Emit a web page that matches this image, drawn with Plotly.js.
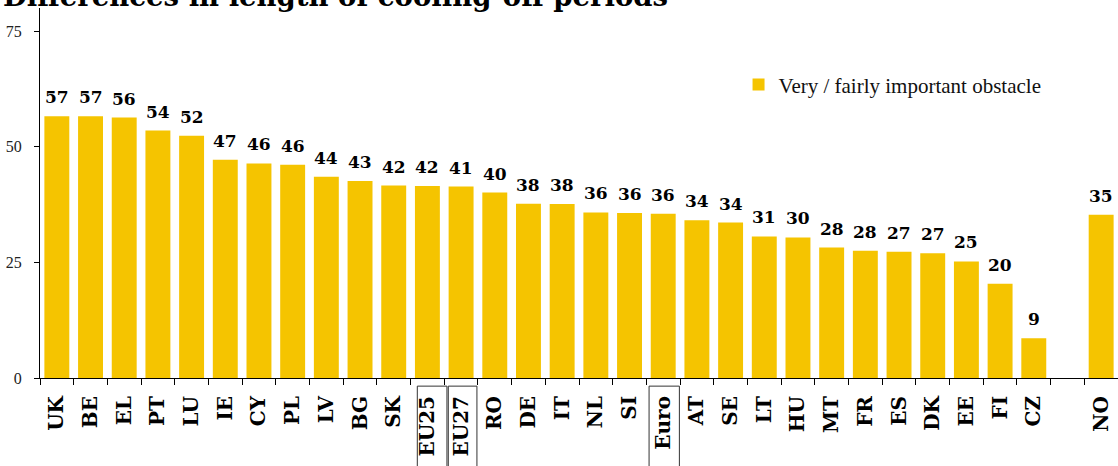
<!DOCTYPE html>
<html>
<head>
<meta charset="utf-8">
<script src="https://cdn.plot.ly/plotly-3.0.1.min.js"></script>
<style>html,body{margin:0;padding:0;background:#fff;}#chart{width:1118px;height:466px;}</style>
</head>
<body>
<div id="chart"></div>
<script>
// Categories in display order (the blank slot separates CZ and NO)
var categories = ["UK","BE","EL","PT","LU","IE","CY","PL","LV","BG","SK","EU25","EU27","RO","DE","IT","NL","SI","Euro","AT","SE","LT","HU","MT","FR","ES","DK","EE","FI","CZ"," ","NO"];
// Share finding it a very / fairly important obstacle (%)
var values = [56.6,56.6,56.3,53.5,52.4,47.2,46.4,46.1,43.5,42.6,41.6,41.5,41.4,40.1,37.7,37.6,35.8,35.7,35.5,34.1,33.6,30.6,30.4,28.2,27.5,27.3,27.0,25.2,20.4,8.6,null,35.3];
// Value labels as printed above the bars
var valueLabels = ["57","57","56","54","52","47","46","46","44","43","42","42","41","40","38","38","36","36","36","34","34","31","30","28","28","27","27","25","20","9","","35"];
var seriesName = "Very / fairly important obstacle";
var titleText = "Differences in length of cooling-off periods";
var yTicks = [0,25,50,75];
var boxed = ["EU25","EU27","Euro"];

var barColor = "#F5C400";

var trace = {
  type: "bar",
  x: categories,
  y: values,
  name: seriesName,
  marker: {color: barColor, line: {width: 0}},
  hoverinfo: "x+y",
  showlegend: true
};

var annotations = [];
categories.forEach(function(c, i){
  if (values[i] === null) return;
  annotations.push({
    x: c, y: values[i], xref: "x", yref: "y",
    text: valueLabels[i], showarrow: false,
    yanchor: "bottom", xanchor: "center", yshift: 7,
    font: {family: "DejaVu Serif", size: 17, color: "#000", weight: "bold"}
  });
});
annotations.push({
  x: -0.036, y: 0.985, xref: "paper", yref: "paper",
  xanchor: "left", yanchor: "bottom", showarrow: false,
  text: "<b>" + titleText + "</b>",
  font: {family: "DejaVu Serif", size: 27.5, color: "#000"}
});

// boxes around aggregate labels (left/right offsets in category units)
var boxOffsets = {"EU25": [-0.30, 0.58], "EU27": [-0.38, 0.47], "Euro": [-0.42, 0.48]};
var shapes = boxed.map(function(c){
  var idx = categories.indexOf(c);
  return {
    type: "rect", xref: "x", yref: "paper",
    x0: idx + boxOffsets[c][0], x1: idx + boxOffsets[c][1],
    y0: -0.022, y1: -0.35,
    line: {color: "#333", width: 1}, fillcolor: "rgba(0,0,0,0)"
  };
});

var layout = {
  width: 1118, height: 466,
  margin: {l: 40, r: 0, t: 8, b: 88, pad: 0},
  paper_bgcolor: "#fff", plot_bgcolor: "#fff",
  bargap: 0.26,
  showlegend: true,
  legend: {
    x: 0.648, y: 0.848, xanchor: "left", yanchor: "top",
    bgcolor: "rgba(0,0,0,0)", borderwidth: 0,
    font: {family: "Liberation Serif", size: 21, color: "#111"}
  },
  xaxis: {
    type: "category",
    categoryorder: "array", categoryarray: categories,
    range: [-0.5, categories.length - 0.5],
    tickson: "boundaries",
    ticks: "outside", ticklen: 6, tickcolor: "#000", tickwidth: 1,
    tickangle: -90,
    ticklabelstandoff: 9,
    tickfont: {family: "DejaVu Serif", size: 20, color: "#000", weight: "bold"},
    showline: true, linecolor: "#000", linewidth: 1,
    showgrid: false, zeroline: false, fixedrange: true
  },
  yaxis: {
    range: [0, 80],
    tickvals: yTicks, ticktext: yTicks.map(String),
    ticks: "outside", ticklen: 5, tickcolor: "#000", tickwidth: 1,
    ticklabelstandoff: 9,
    tickfont: {family: "Liberation Serif", size: 16, color: "#222"},
    showline: true, linecolor: "#000", linewidth: 1,
    showgrid: false, zeroline: false, fixedrange: true
  },
  annotations: annotations,
  shapes: shapes
};

Plotly.newPlot("chart", [trace], layout, {displayModeBar: false, staticPlot: false});
</script>
</body>
</html>
